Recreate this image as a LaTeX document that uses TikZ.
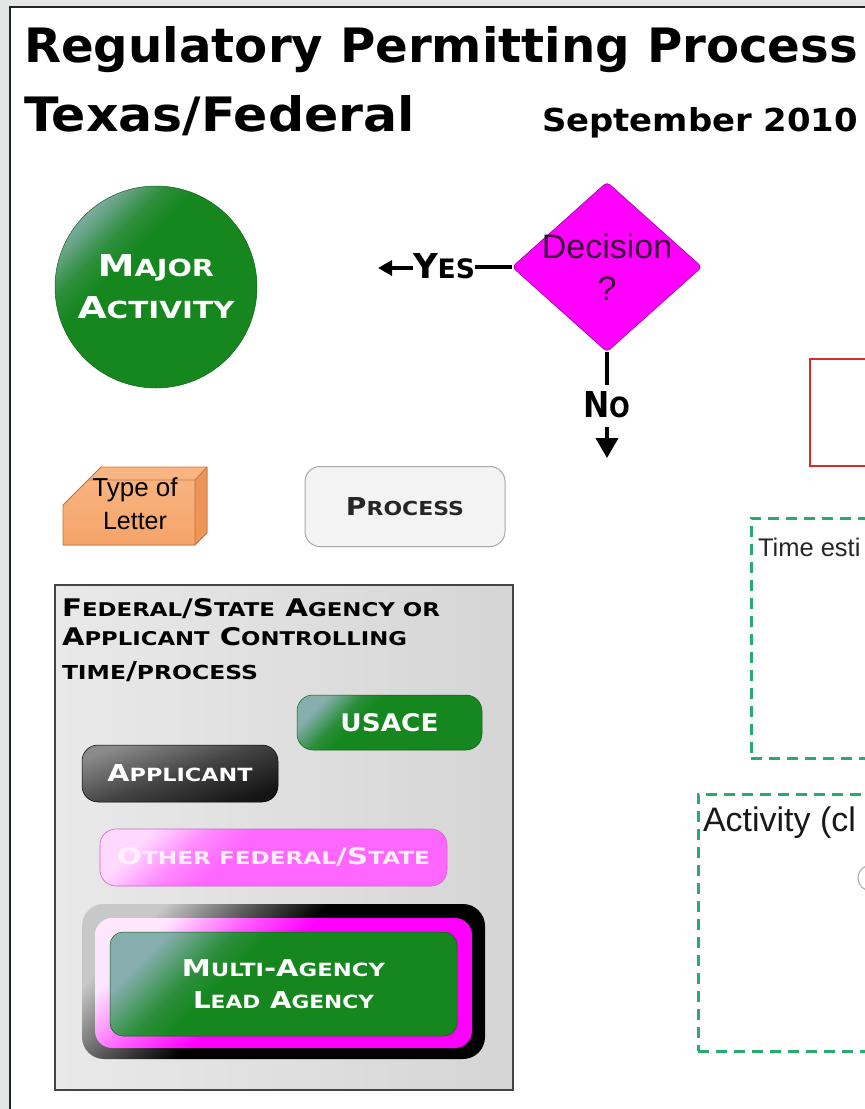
\documentclass[tikz,border=0pt]{standalone}
\usepackage{fontspec}
\setmainfont{Liberation Sans}
\newfontfamily\vb{DejaVu Sans}
\usepackage{graphicx}
\usetikzlibrary{shapes.geometric,arrows.meta}
\definecolor{bgg}{HTML}{E3E6E5}
\definecolor{framec}{HTML}{222222}
\definecolor{grn}{HTML}{16871F}
\definecolor{grnlt}{HTML}{86AEAE}
\definecolor{mag}{HTML}{FF00FF}
\definecolor{magd}{HTML}{A000A0}
\definecolor{magl}{HTML}{FFE6FF}
\definecolor{decc}{HTML}{3A0A3A}
\definecolor{pink}{HTML}{FF66FF}
\definecolor{pinkl}{HTML}{FFD8FF}
\definecolor{pinkd}{HTML}{CC66CC}
\definecolor{pinktxt}{HTML}{FFEEFF}
\definecolor{dgreen}{HTML}{2BAA6E}
\definecolor{redc}{HTML}{D62B2B}
\definecolor{ora}{HTML}{F5A469}
\definecolor{oral}{HTML}{F8B684}
\definecolor{orad}{HTML}{C4723A}
\definecolor{orside}{HTML}{EC9556}
\definecolor{procf}{HTML}{F3F3F3}
\definecolor{procd}{HTML}{A8A8A8}
\definecolor{legl}{HTML}{E9E9E9}
\definecolor{legr}{HTML}{D5D5D5}
\definecolor{legd}{HTML}{444444}
\definecolor{appl}{HTML}{8A8A8A}
\definecolor{appd}{HTML}{151515}
\definecolor{blk}{HTML}{000000}
\definecolor{blkl}{HTML}{C8C8C8}
\pgfdeclareverticalshading{glow}{100bp}{color(0bp)=(grn); color(60bp)=(grn); color(66bp)=(grn!80!grnlt); color(76bp)=(grnlt); color(100bp)=(grnlt)}
\pgfdeclareverticalshading{pinkglow}{100bp}{color(0bp)=(pink); color(58bp)=(pink); color(66bp)=(pink!70!pinkl); color(76bp)=(pinkl); color(100bp)=(pinkl)}
\pgfdeclareverticalshading{magglow}{100bp}{color(0bp)=(mag); color(54bp)=(mag); color(64bp)=(mag!60!magl); color(75bp)=(magl); color(100bp)=(magl)}
\pgfdeclareverticalshading{blkglow}{100bp}{color(0bp)=(blk); color(54bp)=(blk); color(64bp)=(blk!55!blkl); color(75bp)=(blkl); color(100bp)=(blkl)}
\pgfdeclareverticalshading{appglow}{100bp}{color(0bp)=(appd); color(25bp)=(appd); color(50bp)=(appd!60!appl); color(75bp)=(appl); color(100bp)=(appl)}
\newcommand\Sc[1]{\scalebox{0.78}{#1}}
\tikzset{
  t/.style={inner sep=0pt, outer sep=0pt, anchor=base west},
  greenshade/.style={shading=glow, shading angle=45},
  pill/.style={inner sep=0pt, outer sep=0pt, font=\vb\bfseries},
  dashbox/.style={draw=dgreen, dash pattern=on 11pt off 7pt, line width=2.5pt, anchor=north west, inner sep=0pt},
}
\begin{document}
\begin{tikzpicture}[x=1pt,y=-1pt]
\useasboundingbox (0,0) rectangle (865,1109);
\fill[bgg] (0,0) rectangle (865,1109);
\begin{scope}
\clip (0,0) rectangle (865,1109);
\draw[line width=2pt, draw=framec, fill=white] (10,7) rectangle (900,1140);

% titles
\node[t, font=\vb\bfseries] (title1) at (24,62) {\resizebox{834pt}{36pt}{Regulatory Permitting Process}};
\node[t, font=\vb\bfseries] (title2) at (24,131) {\resizebox{391pt}{36pt}{Texas/Federal}};
\node[t, font=\vb\bfseries] (date) at (542,131) {\resizebox{316pt}{24pt}{September 2010}};

% major activity
\node[circle, minimum size=202pt, inner sep=0pt, greenshade, draw=grn!75!black, line width=0.5pt,
      text=white, align=center, font=\vb\bfseries\fontsize{20}{42}\selectfont] (major) at (156,287)
  {\resizebox{116pt}{22pt}{M\Sc{AJOR}}\\\resizebox{157pt}{22pt}{A\Sc{CTIVITY}}};

% decision
\node[diamond, minimum width=190pt, minimum height=170pt, inner sep=0pt, fill=mag, draw=magd,
      line width=0.6pt, rounded corners=4pt] (dec) at (607,267) {};
\node[t, anchor=base, font=\fontsize{34}{34}\selectfont, text=decc] (dectxt) at (607,258) {Decision};
\node[t, anchor=base, font=\fontsize{34}{34}\selectfont, text=decc] (decq) at (607,300) {?};

\node[t, font=\vb\bfseries] (yes) at (413,278) {\resizebox{62pt}{25pt}{Y\Sc{ES}}};
\coordinate (yesarr) at (378,268);
\draw[line width=3.5pt] (dec.west) -- (yes.east |- dec.west);
\draw[line width=3.5pt, -{Triangle[length=14pt,width=15pt]}] (yes.west |- yesarr) -- (yesarr);

\node[t, font=\vb\bfseries] (no) at (583,417) {\resizebox{47pt}{26pt}{N\Sc{O}}};
\coordinate (noarr) at (607,458);
\draw[line width=4pt] (dec.south) -- ([yshift=6pt]no.north -| dec.south);
\draw[line width=4pt, -{Triangle[length=20pt,width=22pt]}] ([yshift=-10pt]no.south -| dec.south) -- (noarr);

% red box
\node[draw=redc, line width=2pt, minimum width=120pt, minimum height=107pt, anchor=north west, inner sep=0pt] (redbox) at (809,358) {};

% type of letter
\fill[top color=oral, bottom color=ora] (63,545) -- (63,505) -- (101,467) -- (207,467) -- (207,533) -- (195,545) -- cycle;
\fill[orside] (195,480) -- (207,467) -- (207,533) -- (195,545) -- cycle;
\draw[orad, line width=0.8pt, line join=round] (63,545) -- (63,505) -- (101,467) -- (207,467) -- (207,533) -- (195,545) -- cycle;
\draw[orad, line width=0.8pt] (88,480) -- (195,480) -- (207,467) (195,480) -- (195,545);
\node[t, anchor=base, font=\fontsize{26}{26}\selectfont] (let1) at (135,496) {Type of};
\node[t, anchor=base, font=\fontsize{25}{25}\selectfont] (let2) at (135,529) {Letter};

% process
\node[pill, draw=procd, fill=procf, line width=1pt, rounded corners=15pt, minimum width=200pt, minimum height=80pt, text=black!85] (proc) at (405,506.5)
  {\resizebox{118pt}{18pt}{P\Sc{ROCESS}}};

% legend
\node[draw=legd, line width=1.2pt, left color=legl, right color=legr, minimum width=458pt, minimum height=505pt, inner sep=0pt] (legend) at (284,837.5) {};
\node[t, font=\vb\bfseries] (lg1) at (62,616) {\resizebox{378pt}{18pt}{F\Sc{EDERAL}/S\Sc{TATE} A\Sc{GENCY OR}}};
\node[t, font=\vb\bfseries] (lg2) at (62,645) {\resizebox{345pt}{18pt}{A\Sc{PPLICANT} C\Sc{ONTROLLING}}};
\node[t, font=\vb\bfseries] (lg3) at (62,679) {\resizebox{196pt}{18pt}{\Sc{TIME}/\Sc{PROCESS}}};

\node[pill, greenshade, draw=grn!70!black, line width=0.5pt, rounded corners=16pt, minimum width=185pt, minimum height=55pt, text=white] (usace) at (389.5,722.5)
  {\resizebox{98pt}{18pt}{USACE}};
\node[pill, shading=appglow, shading angle=20, draw=black, line width=0.5pt, rounded corners=16pt, minimum width=196pt, minimum height=57pt, text=white] (appl) at (180,773.5)
  {\resizebox{145pt}{17pt}{A\Sc{PPLICANT}}};
\node[pill, shading=pinkglow, shading angle=45, draw=pinkd, line width=0.6pt, rounded corners=16pt, minimum width=347pt, minimum height=57pt, text=pinktxt] (other) at (273.5,857.5)
  {\resizebox{313pt}{17pt}{O\Sc{THER FEDERAL}/S\Sc{TATE}}};

\node[pill, shading=blkglow, shading angle=45, rounded corners=22pt, minimum width=403pt, minimum height=155pt] (multiout) at (283.5,981.5) {};
\node[pill, shading=magglow, shading angle=45, rounded corners=17pt, minimum width=377pt, minimum height=130pt] (multimag) at (283.5,983) {};
\node[pill, greenshade, draw=grn!70!black, line width=0.5pt, rounded corners=13pt, minimum width=347pt, minimum height=104pt,
      text=white, align=center, font=\vb\bfseries\fontsize{20}{32}\selectfont] (multi) at (283.5,984)
  {\resizebox{203pt}{17pt}{M\Sc{ULTI}-A\Sc{GENCY}}\\\resizebox{181pt}{17pt}{L\Sc{EAD} A\Sc{GENCY}}};

% dashed boxes
\node[dashbox, minimum width=200pt, minimum height=240pt] (timebox) at (750,517) {};
\node[t, font=\fontsize{25.5}{26}\selectfont, text=black!85] (timetxt) at (758,556) {Time esti};
\node[dashbox, minimum width=250pt, minimum height=257pt] (actbox) at (697,793) {};
\node[t, font=\fontsize{34}{34}\selectfont, text=black!90] (acttxt) at (703,831) {Activity (cl};
\node[circle, draw=black!30, line width=1.2pt, minimum size=26pt, inner sep=0pt] (actcirc) at (871,878) {};
\end{scope}
\end{tikzpicture}
\end{document}
